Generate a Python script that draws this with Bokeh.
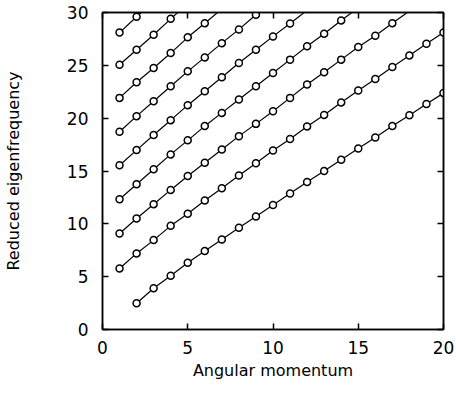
from bokeh.plotting import figure
from bokeh.models import LinearAxis, Range1d, FixedTicker
from bokeh.embed import file_html
from bokeh.resources import INLINE

# Angular momentum at which each branch starts
branch_start = [2, 1, 1, 1, 1, 1, 1, 1, 1]

# Reduced eigenfrequency of each branch (last value of upper branches lies just above the frame)
branch_values = [
    [2.48, 3.90, 5.09, 6.32, 7.42, 8.52, 9.62, 10.69, 11.79, 12.88, 13.96, 14.99,
     16.07, 17.13, 18.16, 19.25, 20.28, 21.34, 22.37],
    [5.78, 7.20, 8.46, 9.81, 10.95, 12.20, 13.37, 14.57, 15.73, 16.93, 18.02, 19.22,
     20.31, 21.49, 22.61, 23.71, 24.84, 25.94, 27.05, 28.11],
    [9.08, 10.50, 11.86, 13.21, 14.53, 15.78, 17.04, 18.30, 19.46, 20.66, 21.92, 23.18,
     24.34, 25.54, 26.73, 27.80, 28.99, 30.14],
    [12.33, 13.75, 15.16, 16.57, 17.90, 19.25, 20.50, 21.76, 23.02, 24.28, 25.54, 26.80,
     27.99, 29.25, 30.45],
    [15.54, 16.98, 18.40, 19.81, 21.23, 22.55, 23.87, 25.22, 26.48, 27.74, 28.96, 30.21],
    [18.71, 20.19, 21.60, 23.02, 24.43, 25.75, 27.10, 28.40, 29.78, 31.08],
    [21.92, 23.40, 24.75, 26.16, 27.65, 28.99, 30.34],
    [25.06, 26.48, 27.90, 29.40, 30.85],
    [28.10, 29.60, 31.05],
]

x_ticks = [0, 5, 10, 15, 20]
y_ticks = [0, 5, 10, 15, 20, 25, 30]
x_title = "Angular momentum"
y_title = "Reduced eigenfrequency"

FONT = "DejaVu Sans"

p = figure(width=456, height=411, output_backend="svg", toolbar_location=None,
           x_range=Range1d(0, 20), y_range=Range1d(0, 30),
           min_border_left=102, min_border_right=13, min_border_top=12, min_border_bottom=82,
           x_axis_location=None, y_axis_location=None)
p.grid.visible = False
p.outline_line_color = "black"
p.outline_line_width = 1.5
p.background_fill_color = "white"
p.border_fill_color = "white"

def make_axis(ticks, show_labels, title=None):
    ax = LinearAxis(ticker=FixedTicker(ticks=ticks))
    ax.major_tick_in = 6
    ax.major_tick_out = 0
    ax.minor_tick_in = 0
    ax.minor_tick_out = 0
    ax.major_tick_line_color = "black"
    ax.major_tick_line_width = 1.5
    ax.axis_line_color = "black"
    ax.axis_line_width = 1.5
    if show_labels:
        ax.major_label_text_font = FONT
        ax.major_label_text_font_size = "17px"
        ax.major_label_text_color = "black"
    else:
        ax.major_label_text_font_size = "0px"
        ax.major_label_text_color = None
        ax.major_label_standoff = 0
    if title:
        ax.axis_label = title
        ax.axis_label_text_font = FONT
        ax.axis_label_text_font_size = "16px"
        ax.axis_label_text_font_style = "normal"
        ax.axis_label_text_color = "black"
    return ax

xb = make_axis(x_ticks, True, x_title)
xb.major_label_standoff = 11
xb.axis_label_standoff = 4
p.add_layout(xb, "below")

yl = make_axis(y_ticks, True, y_title)
yl.major_label_standoff = 14
yl.axis_label_standoff = 41
p.add_layout(yl, "left")

p.add_layout(make_axis(x_ticks, False), "above")
p.add_layout(make_axis(y_ticks, False), "right")

for start, vals in zip(branch_start, branch_values):
    xs = list(range(start, start + len(vals)))
    p.line(xs, vals, line_color="black", line_width=1.2)
    mx = [x for x, v in zip(xs, vals) if v <= 30]
    my = [v for v in vals if v <= 30]
    p.scatter(mx, my, marker="circle", size=7, fill_color="white",
              line_color="black", line_width=1.5)

open("out.html", "w").write(file_html(p, INLINE))
